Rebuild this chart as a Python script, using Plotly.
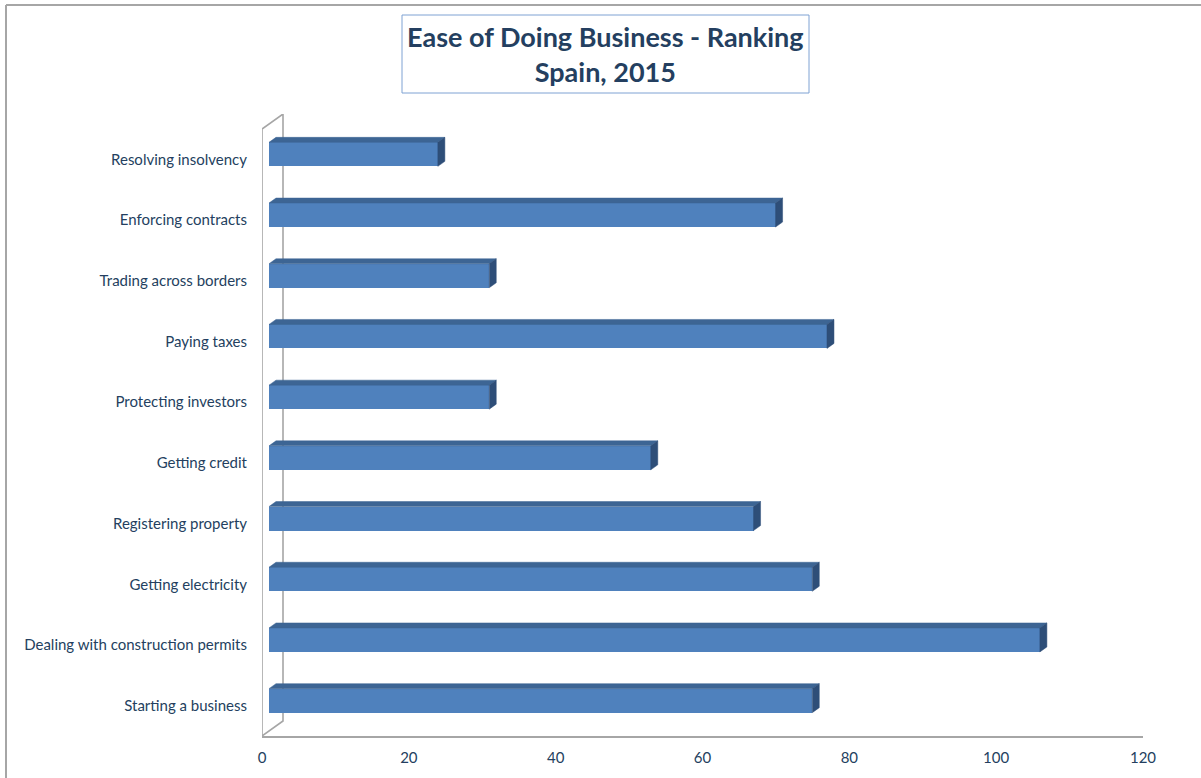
import plotly.graph_objects as go

# Doing Business 2015 rankings for Spain (lower is better)
categories = [
    "Starting a business",
    "Dealing with construction permits",
    "Getting electricity",
    "Registering property",
    "Getting credit",
    "Protecting investors",
    "Paying taxes",
    "Trading across borders",
    "Enforcing contracts",
    "Resolving insolvency",
]
ranking = [74, 105, 74, 66, 52, 30, 76, 30, 69, 23]
x_ticks = [0, 20, 40, 60, 80, 100, 120]

# Page geometry (pixels)
W, H = 1201, 778
L, R, T, B = 262, 58, 114, 42
plot_w = W - L - R
plot_h = H - T - B
n = len(categories)
px_x = plot_w / 120.0                   # pixels per ranking unit
px_y = (plot_h - 15) / n                # pixels per category slot

# Pseudo-3D depth of the box and of each bar
wall_dx, wall_dy = 21 / px_x, 15 / px_y
bar_dx, bar_dy = 7 / px_x, 5 / px_y
bar_h = 24 / px_y

FRONT = "#4F81BD"
TOP = "#3D6594"
SIDE = "#2E4E78"
WALL = "#A6A6A6"
TEXT = "#243F60"
FONT = "Lato"

y_top = n - 0.5
y_range = [-0.5, y_top + wall_dy]

fig = go.Figure()

# Bar faces: front (bar trace), top and right side (filled polygons)
top_x, top_y, side_x, side_y = [], [], [], []
front_y = []
for i, v in enumerate(ranking):
    yc = i + bar_dy
    y0, y1 = yc - bar_h / 2, yc + bar_h / 2
    x0, x1 = bar_dx, bar_dx + v
    front_y.append(yc)
    top_x += [x0, x1, x1 + bar_dx, x0 + bar_dx, x0, None]
    top_y += [y1, y1, y1 + bar_dy, y1 + bar_dy, y1, None]
    side_x += [x1, x1, x1 + bar_dx, x1 + bar_dx, x1, None]
    side_y += [y0, y1, y1 + bar_dy, y0 + bar_dy, y0, None]

fig.add_trace(go.Bar(
    x=ranking, y=front_y, base=bar_dx, orientation="h", width=bar_h,
    marker=dict(color=FRONT, line=dict(width=0)),
    hovertext=categories, showlegend=False,
))
fig.add_trace(go.Scatter(
    x=top_x, y=top_y, mode="lines", fill="toself", fillcolor=TOP,
    line=dict(color=TOP, width=0.5), hoverinfo="skip", showlegend=False,
))
fig.add_trace(go.Scatter(
    x=side_x, y=side_y, mode="lines", fill="toself", fillcolor=SIDE,
    line=dict(color=SIDE, width=0.5), hoverinfo="skip", showlegend=False,
))

def paper_x(p):
    return (p - L) / plot_w

def paper_y(p):
    return (H - B - p) / plot_h

# Box walls behind the bars: front-left edge, back wall edge, diagonals
wall_path = (
    f"M 0,-0.5 L 0,{y_top} L {wall_dx},{y_top + wall_dy} "
    f"L {wall_dx},{-0.5 + wall_dy} L 0,-0.5"
)

shapes = [
    dict(type="path", xref="x", yref="y", path=wall_path, layer="below",
         line=dict(color=WALL, width=1.6)),
    # outer chart frame (top and left edges)
    dict(type="line", xref="paper", yref="paper",
         x0=paper_x(6), y0=paper_y(5), x1=paper_x(W), y1=paper_y(5),
         line=dict(color=WALL, width=2)),
    dict(type="line", xref="paper", yref="paper",
         x0=paper_x(6), y0=paper_y(5), x1=paper_x(6), y1=paper_y(H),
         line=dict(color=WALL, width=2)),
    # title box
    dict(type="rect", xref="paper", yref="paper",
         x0=paper_x(402), y0=paper_y(93), x1=paper_x(809), y1=paper_y(15),
         line=dict(color="#7EA2D3", width=1), fillcolor="white"),
]

fig.update_layout(
    width=W, height=H,
    margin=dict(l=L, r=R, t=T, b=B),
    paper_bgcolor="white", plot_bgcolor="white",
    font=dict(family=FONT, color=TEXT),
    shapes=shapes,
    annotations=[dict(
        xref="paper", yref="paper", x=paper_x(605.5), y=paper_y(54),
        xanchor="center", yanchor="middle", showarrow=False,
        text="<b>Ease of Doing Business - Ranking<br>Spain, 2015</b>",
        font=dict(family=FONT, size=27, color=TEXT),
    )],
    xaxis=dict(
        range=[0, 120], tickvals=x_ticks, ticktext=[str(t) for t in x_ticks],
        showgrid=False, zeroline=False, showline=True,
        linecolor=WALL, linewidth=2, ticks="",
        ticklabelstandoff=7,
        tickfont=dict(family=FONT, size=15, color=TEXT),
    ),
    yaxis=dict(
        range=y_range, tickvals=list(range(n)), ticktext=categories,
        showgrid=False, zeroline=False, showline=False, ticks="",
        ticklabelstandoff=14,
        tickfont=dict(family=FONT, size=15, color=TEXT),
    ),
    bargap=0,
)

fig.write_html("out.html")
